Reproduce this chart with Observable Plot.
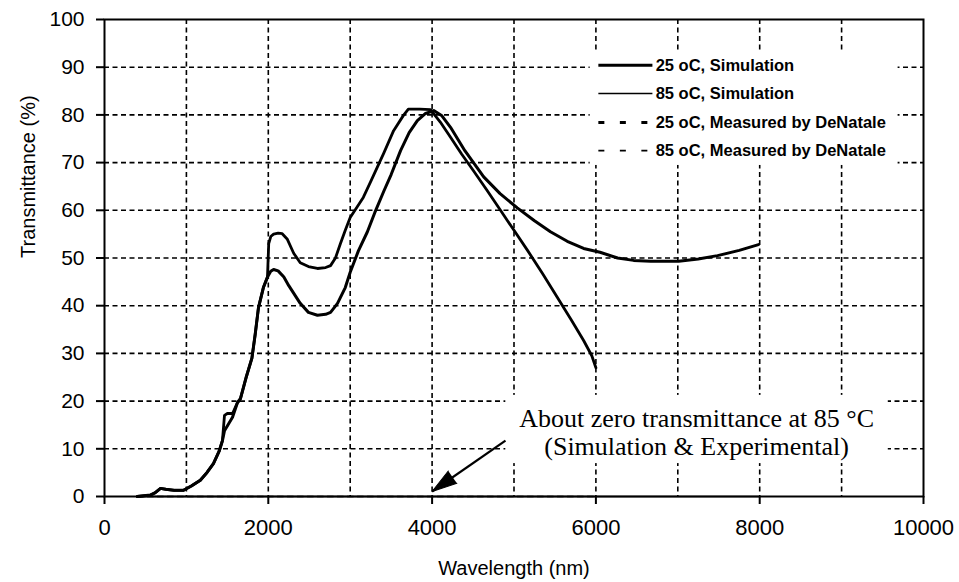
<!DOCTYPE html>
<html>
<head>
<meta charset="utf-8">
<script src="https://cdn.jsdelivr.net/npm/d3@7"></script>
<script src="https://cdn.jsdelivr.net/npm/@observablehq/plot@0.6"></script>
<style>
  html, body { margin: 0; padding: 0; background: #fff; }
  #chart svg [aria-label^="x-axis"] path,
  #chart svg [aria-label^="x-axis"] line,
  #chart svg [aria-label^="y-axis"] path,
  #chart svg [aria-label^="y-axis"] line { stroke-width: 2; }
  #chart svg [aria-label^="x-axis"] text { font-size: 22px; }
</style>
</head>
<body>
<div id="chart"></div>
<script>
// Transmittance spectra, 25 °C vs 85 °C (simulation and DeNatale measurement)

// 25 °C simulation
const wlSim25 = [400, 560, 620, 684, 750, 850, 965, 1060, 1170, 1250, 1330, 1400, 1440,
  1465, 1563, 1624, 1660, 1730, 1800, 1840, 1880, 1940, 1990, 2030, 2065, 2120, 2190,
  2250, 2390, 2490, 2600, 2700, 2760, 2845, 2940, 3000, 3100, 3210, 3300, 3410, 3500,
  3615, 3720, 3820, 3920, 4020, 4120, 4225, 4400, 4630, 4830, 5040, 5250, 5445, 5650,
  5850, 6050, 6265, 6460, 6670, 6870, 7010, 7250, 7485, 7750, 7985];
const tSim25 = [0, 0.3, 0.8, 1.7, 1.5, 1.3, 1.3, 2.2, 3.4, 5, 6.9, 9.5, 11.7,
  13.8, 16.6, 19.7, 20.5, 25, 29, 34, 39.6, 43.8, 46, 47.2, 47.6, 47.3, 46,
  44.2, 40.5, 38.6, 38, 38.2, 38.6, 40.5, 43.8, 47, 51.5, 55.5, 59.5, 64, 67.5,
  72.5, 76.3, 78.8, 80.3, 80.9, 79.8, 77.4, 72.5, 67, 63.5, 60.5, 57.8, 55.5, 53.5,
  52, 51.2, 50, 49.5, 49.3, 49.3, 49.3, 49.8, 50.5, 51.6, 52.8];

// 25 °C measured by DeNatale
const wlMeas25 = [400, 560, 620, 684, 750, 850, 965, 1060, 1170, 1250, 1330, 1400, 1440,
  1465, 1500, 1563, 1624, 1660, 1730, 1800, 1840, 1880, 1940, 1990, 2005, 2030, 2065,
  2120, 2170, 2230, 2310, 2390, 2490, 2600, 2700, 2760, 2820, 2880, 2940, 3000, 3160,
  3250, 3410, 3530, 3650, 3710, 3850, 3980, 4100, 4225, 4360, 4505, 4670, 4835, 5000,
  5165, 5350, 5530, 5700, 5850, 5950, 6000];
const tMeas25 = [0, 0.3, 0.8, 1.7, 1.5, 1.3, 1.3, 2.2, 3.4, 5, 6.9, 9.5, 11.7,
  17, 17.4, 17.4, 19.7, 20.5, 25, 29, 34, 39.6, 43.8, 46, 53, 54.5, 55,
  55.2, 55.1, 54, 51, 49, 48.2, 47.8, 48, 48.4, 50, 53, 55.8, 58.5, 62.7,
  66, 72, 76.7, 79.9, 81.2, 81.2, 81.1, 78.5, 75.3, 71.8, 68.3, 64.2, 60, 55.8,
  51.6, 46.7, 41.7, 37, 32.7, 29.5, 27];

// 85 °C: transmittance stays at about zero
const wlSim85 = [400, 2000, 4000, 6000, 8000];
const tSim85 = [0, 0, 0, 0, 0];
const wlMeas85 = [400, 2000, 4000, 6000];
const tMeas85 = [0, 0, 0, 0];

const seriesNames = ["25 oC, Simulation", "85 oC, Simulation",
  "25 oC, Measured by DeNatale", "85 oC, Measured by DeNatale"];

const xTicks = [0, 2000, 4000, 6000, 8000, 10000];
const xGrid = [1000, 2000, 3000, 4000, 5000, 6000, 7000, 8000, 9000];
const yTicks = [0, 10, 20, 30, 40, 50, 60, 70, 80, 90, 100];
const yGrid = [10, 20, 30, 40, 50, 60, 70, 80, 90];

const noteLines = ["About zero transmittance at 85 °C", "(Simulation & Experimental)"];

// tables for the marks
const toRows = (name, xs, ys) => xs.map((x, i) => ({series: name, wl: x, t: ys[i]}));
const sim25 = toRows(seriesNames[0], wlSim25, tSim25);
const sim85 = toRows(seriesNames[1], wlSim85, tSim85);
const meas25 = toRows(seriesNames[2], wlMeas25, tMeas25);
const meas85 = toRows(seriesNames[3], wlMeas85, tMeas85);

// legend layout (data units inside the plot frame)
const legendBox = {x1: 5930, x2: 9690, y1: 69.4, y2: 93.5};
const legendRowsT = [90.4, 84.5, 78.4, 72.5];
const legendSample = {x1: 6030, x2: 6690, text: 6730};
const legendStyle = [
  {w: 3, dash: "none"}, {w: 1.5, dash: "none"},
  {w: 3, dash: "6,15.5"}, {w: 1.8, dash: "6,15.5"}
];
const legendRows = seriesNames.map((name, i) => ({name, t: legendRowsT[i], ...legendStyle[i]}));

// annotation layout
const noteBox = {x1: 4900, x2: 9570, y1: 6.9, y2: 21.2};
const noteT = [16.4, 10.5];
const noteX = 7230;
const arrowTail = {wl: 4896, t: 11.7};
const arrowTip = {wl: 4000, t: 1.05};

const grid = {stroke: "black", strokeWidth: 1.6, strokeDasharray: "5,3.5", strokeOpacity: 1};

// one sample line per legend row (dash patterns are constant per mark)
const legendSamples = legendRows.map(row =>
  Plot.link([row], {x1: () => legendSample.x1, x2: () => legendSample.x2, y1: "t", y2: "t",
    stroke: "black", strokeWidth: row.w, strokeDasharray: row.dash}));

const chart = Plot.plot({
  width: 959,
  height: 582,
  marginLeft: 104,
  marginRight: 36,
  marginTop: 19,
  marginBottom: 86,
  style: {fontFamily: "Liberation Sans, Arial, sans-serif", fontSize: "21px", color: "black", background: "white"},
  x: {domain: [0, 10000], ticks: xTicks, tickFormat: "d", tickSize: 8, tickPadding: 15, label: null},
  y: {domain: [0, 100], ticks: yTicks, tickFormat: "d", tickSize: 8, tickPadding: 12, label: null},
  marks: [
    Plot.ruleX(xGrid, {x: d => d, ...grid}),
    Plot.ruleY(yGrid, {y: d => d, ...grid}),
    // white panels behind legend and note
    Plot.rect([legendBox], {x1: "x1", x2: "x2", y1: "y1", y2: "y2", fill: "white"}),
    Plot.rect([noteBox], {x1: "x1", x2: "x2", y1: "y1", y2: "y2", fill: "white"}),
    // curves
    Plot.line(sim85, {x: "wl", y: "t", stroke: "black", strokeWidth: 1.5}),
    Plot.line(meas85, {x: "wl", y: "t", stroke: "black", strokeWidth: 1.5, strokeDasharray: "6,4"}),
    Plot.line(meas25, {x: "wl", y: "t", stroke: "black", strokeWidth: 2.8}),
    Plot.line(sim25, {x: "wl", y: "t", stroke: "black", strokeWidth: 3}),
    Plot.frame({stroke: "black", strokeWidth: 2}),
    // legend
    ...legendSamples,
    Plot.text(legendRows, {x: () => legendSample.text, y: "t", text: "name", textAnchor: "start",
      fontSize: 16.5, fontWeight: "bold", fontFamily: "Liberation Sans, Arial, sans-serif", fill: "black"}),
    // note with arrow
    Plot.text(noteLines, {x: () => noteX, y: (d, i) => noteT[i], text: d => d,
      fontSize: 26, fontFamily: "Liberation Serif, Times New Roman, serif", fill: "black"}),
    Plot.link([0], {x1: () => arrowTail.wl, y1: () => arrowTail.t, x2: () => arrowTip.wl, y2: () => arrowTip.t,
      stroke: "black", strokeWidth: 2.2}),
    Plot.vector([0], {x: () => arrowTip.wl, y: () => arrowTip.t, length: 25, rotate: 235,
      shape: "spike", r: 7.5, anchor: "end", fill: "black", stroke: "black", strokeWidth: 1}),
    // axis titles
    Plot.text(["Wavelength (nm)"], {frameAnchor: "bottom", dy: 72, fontSize: 20, lineAnchor: "middle", fill: "black"}),
    Plot.text(["Transmittance (%)"], {frameAnchor: "left", dx: -76, rotate: -90, fontSize: 20, lineAnchor: "middle", fill: "black"})
  ]
});

document.getElementById("chart").appendChild(chart);
</script>
</body>
</html>
